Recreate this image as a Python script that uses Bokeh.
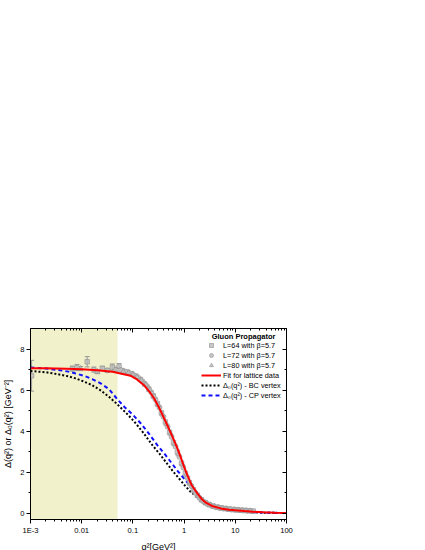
from bokeh.plotting import figure
from bokeh.models import (FixedTicker, LogAxis, LinearAxis, BoxAnnotation, Whisker, Label,
                          TeeHead, ColumnDataSource, Legend, LegendItem, CustomJSTickFormatter)
from bokeh.embed import file_html
from bokeh.resources import INLINE

# ---------------- data ----------------
X_MIN, X_MAX = 0.001, 100
Y_MIN, Y_MAX = -0.3, 9.0
SHADE_LO, SHADE_HI = 0.001, 0.05

x_ticks = [0.001, 0.01, 0.1, 1, 10, 100]
x_tick_labels = ["1E-3", "0.01", "0.1", "1", "10", "100"]
y_ticks = [0, 2, 4, 6, 8]
y_minor = [1, 3, 5, 7]

fit_q = [0.001, 0.002, 0.005, 0.01, 0.02, 0.04, 0.06, 0.09, 0.12, 0.165, 0.21, 0.26, 0.32,
         0.38, 0.47, 0.58, 0.74, 0.88, 1.0, 1.16, 1.4, 1.83, 2.2, 2.66, 3.5, 5.2, 7.5, 10,
         15, 22, 35, 60, 100]
fit_v = [7.07, 7.06, 7.04, 7.01, 6.97, 6.89, 6.80, 6.70, 6.52, 6.24, 5.93, 5.59, 5.18,
         4.78, 4.29, 3.78, 3.16, 2.66, 2.26, 1.85, 1.38, 0.96, 0.70, 0.52, 0.36, 0.24, 0.18,
         0.15, 0.11, 0.08, 0.05, 0.03, 0.02]

cp_q = [0.001, 0.002, 0.0035, 0.0055, 0.0076, 0.011, 0.016, 0.023, 0.034, 0.05, 0.07, 0.1,
        0.14, 0.2, 0.3, 0.42, 0.55, 0.75, 1.0, 1.3, 1.69, 2.45, 3.5, 5.0, 7.5, 10, 20, 40, 100]
cp_v = [7.10, 7.05, 6.98, 6.90, 6.81, 6.70, 6.54, 6.34, 6.05, 5.55, 5.15, 4.80, 4.40, 3.92,
        3.32, 2.88, 2.50, 2.06, 1.69, 1.35, 1.04, 0.63, 0.40, 0.25, 0.16, 0.12, 0.06, 0.03, 0.015]

bc_q = [0.001, 0.002, 0.0035, 0.0055, 0.0076, 0.011, 0.016, 0.023, 0.034, 0.05, 0.08, 0.112,
        0.16, 0.24, 0.336, 0.44, 0.6, 0.8, 1.04, 1.35, 2.0, 2.6, 3.5, 5.0, 7.5, 10, 20, 40, 100]
bc_v = [6.93, 6.87, 6.77, 6.67, 6.57, 6.42, 6.24, 6.00, 5.68, 5.30, 4.80, 4.40, 3.92, 3.32,
        2.88, 2.50, 2.06, 1.69, 1.35, 1.04, 0.72, 0.52, 0.38, 0.24, 0.16, 0.12, 0.06, 0.03, 0.015]

# lattice L=64
l64_q = [0.00105, 0.0066, 0.0128, 0.0253, 0.0397,
         0.062, 0.078, 0.095, 0.115, 0.14, 0.17, 0.205, 0.25, 0.3, 0.36, 0.43, 0.52, 0.62,
         0.74, 0.89, 1.06, 1.27, 1.52, 1.82, 2.18, 2.6, 3.1, 3.7, 4.45, 5.3, 6.35, 7.6, 9.1,
         10.9, 13, 15.6, 18.7, 22.3]
l64_v = [6.70, 7.05, 7.38, 7.06, 7.12,
         6.95, 6.88, 6.80, 6.68, 6.52, 6.30, 6.05, 5.72, 5.35, 4.90, 4.45, 3.95, 3.45,
         2.98, 2.45, 1.95, 1.50, 1.15, 0.88, 0.66, 0.52, 0.42, 0.35, 0.30, 0.26, 0.23, 0.20,
         0.18, 0.17, 0.15, 0.14, 0.12, 0.11]
l64_err = [0.75, 0.12, 0.25, 0.10, 0.15]

# lattice L=72
l72_q = [0.0081, 0.0173, 0.0316, 0.0537,
         0.058, 0.072, 0.088, 0.106, 0.128, 0.155, 0.188, 0.228, 0.275, 0.33, 0.395, 0.475,
         0.57, 0.68, 0.81, 0.97, 1.16, 1.39, 1.66, 1.99, 2.38, 2.85, 3.4, 4.05, 4.85, 5.8,
         6.95, 8.3, 9.9, 11.8, 14.1, 16.9, 20.2]
l72_v = [7.10, 7.00, 6.96, 7.17,
         6.98, 6.90, 6.82, 6.72, 6.60, 6.42, 6.20, 5.90, 5.55, 5.15, 4.70, 4.22,
         3.72, 3.25, 2.75, 2.22, 1.73, 1.33, 1.00, 0.76, 0.58, 0.46, 0.37, 0.31, 0.27, 0.24,
         0.21, 0.19, 0.17, 0.155, 0.14, 0.125, 0.115]
l72_err = [0.15, 0.12, 0.10, 0.12]

# lattice L=80
l80_q = [0.0095, 0.0202, 0.045,
         0.065, 0.082, 0.1, 0.12, 0.147, 0.178, 0.215, 0.26, 0.315, 0.378, 0.455, 0.545,
         0.65, 0.78, 0.93, 1.11, 1.33, 1.59, 1.9, 2.28, 2.72, 3.25, 3.88, 4.65, 5.55, 6.65,
         7.95, 9.5, 11.4, 13.6, 16.3, 19.5]
l80_v = [7.05, 6.90, 7.00,
         6.90, 6.84, 6.76, 6.64, 6.48, 6.26, 6.00, 5.68, 5.28, 4.82, 4.35, 3.88,
         3.38, 2.88, 2.38, 1.88, 1.44, 1.10, 0.84, 0.63, 0.50, 0.41, 0.34, 0.29, 0.25, 0.22,
         0.20, 0.18, 0.16, 0.145, 0.13, 0.115]
l80_err = [0.10, 0.10, 0.10]

# ---------------- figure ----------------
FONT = "Liberation Sans"

p = figure(x_axis_type="log", x_range=(X_MIN, X_MAX), y_range=(Y_MIN, Y_MAX),
           frame_width=256, frame_height=191, output_backend="svg", toolbar_location=None,
           min_border_left=22, min_border_right=139, min_border_top=328, min_border_bottom=0,
           background_fill_color="white", border_fill_color="white")
p.xgrid.visible = False
p.ygrid.visible = False
p.outline_line_color = "black"
p.outline_line_width = 1

shade = BoxAnnotation(left=SHADE_LO, right=SHADE_HI, fill_color="#f1f1cb", fill_alpha=1.0,
                      line_color=None, level="underlay")
p.add_layout(shade)

x_minor = [k * 10.0 ** e for e in range(-3, 2) for k in range(2, 10)]

xa = p.xaxis[0]
xa.ticker = FixedTicker(ticks=x_ticks, minor_ticks=x_minor)
xa.major_label_overrides = dict(zip(x_ticks, x_tick_labels))
xa.axis_label = "q²[GeV²]"

ya = p.yaxis[0]
ya.ticker = FixedTicker(ticks=y_ticks, minor_ticks=y_minor)
ya.axis_label = "Δ(q²) or Δ₀(q²) [GeV⁻²]"

for ax in (xa, ya):
    ax.axis_line_color = "black"
    ax.major_tick_line_color = "black"
    ax.minor_tick_line_color = "black"
    ax.major_tick_in = 0
    ax.major_tick_out = 4
    ax.minor_tick_in = 0
    ax.minor_tick_out = 2
    ax.major_label_text_font = FONT
    ax.major_label_text_font_size = "7.6px"
    ax.major_label_text_color = "black"
    ax.axis_label_text_font = FONT
    ax.axis_label_text_font_size = "9px"
    ax.axis_label_text_font_style = "normal"
    ax.axis_label_text_color = "black"
    ax.major_label_standoff = 2
    ax.axis_label_standoff = 4

blank = CustomJSTickFormatter(code="return ''")
top = LogAxis(ticker=FixedTicker(ticks=x_ticks, minor_ticks=x_minor), formatter=blank)
right = LinearAxis(ticker=FixedTicker(ticks=y_ticks, minor_ticks=y_minor), formatter=blank)
for ax in (top, right):
    ax.major_tick_in = 4
    ax.major_tick_out = 0
    ax.minor_tick_in = 2
    ax.minor_tick_out = 0
    ax.major_label_standoff = 0
    ax.major_label_text_font_size = "1px"
    ax.axis_line_color = "black"
p.add_layout(top, "above")
p.add_layout(right, "right")

# theory curves
r_bc = p.line(bc_q, bc_v, line_color="black", line_width=2, line_dash="2 2")
r_cp = p.line(cp_q, cp_v, line_color="#1010ff", line_width=2, line_dash="4 3")

# lattice data
GREY_F = "#bdbdbd"
GREY_L = "#979797"


def whiskers(qs, vs, es):
    n = len(es)
    src = ColumnDataSource(dict(base=qs[:n],
                                upper=[v + e for v, e in zip(vs[:n], es)],
                                lower=[v - e for v, e in zip(vs[:n], es)]))
    w = Whisker(source=src, base="base", upper="upper", lower="lower", dimension="height",
                line_color=GREY_L, line_width=1,
                upper_head=TeeHead(size=5, line_color=GREY_L, line_width=1),
                lower_head=TeeHead(size=5, line_color=GREY_L, line_width=1))
    p.add_layout(w)


whiskers(l64_q, l64_v, l64_err)
whiskers(l72_q, l72_v, l72_err)
whiskers(l80_q, l80_v, l80_err)

r64 = p.scatter(l64_q, l64_v, marker="square", size=4.5, fill_color=GREY_F,
                line_color=GREY_L, line_width=0.8, alpha=0.85)
r72 = p.scatter(l72_q, l72_v, marker="circle", size=5, fill_color=GREY_F,
                line_color=GREY_L, line_width=0.8, alpha=0.85)
r80 = p.scatter(l80_q, l80_v, marker="triangle", size=5.5, fill_color=GREY_F,
                line_color=GREY_L, line_width=0.8, alpha=0.85)

r_fit = p.line(fit_q, fit_v, line_color="#ff0000", line_width=2)

legend = Legend(
    items=[
        LegendItem(label="L=64 with β=5.7", renderers=[r64]),
        LegendItem(label="L=72 with β=5.7", renderers=[r72]),
        LegendItem(label="L=80 with β=5.7", renderers=[r80]),
        LegendItem(label="Fit for lattice data", renderers=[r_fit]),
        LegendItem(label="Δ₀(q²) - BC vertex", renderers=[r_bc]),
        LegendItem(label="Δ₀(q²) - CP vertex", renderers=[r_cp]),
    ],
    location=(171, 119),
    label_text_font=FONT, label_text_font_size="7.3px", label_text_color="black",
    label_standoff=2, label_height=10, glyph_height=10, glyph_width=20,
    spacing=0, padding=0, margin=0,
    border_line_color=None, background_fill_alpha=0.0,
)
p.add_layout(legend)

title = Label(x=14.5, y=8.63, text="Gluon Propagator", text_font=FONT,
              text_font_size="7.5px", text_font_style="bold", text_align="center",
              text_baseline="middle", text_color="black")
p.add_layout(title)

open("out.html", "w").write(file_html(p, INLINE))
